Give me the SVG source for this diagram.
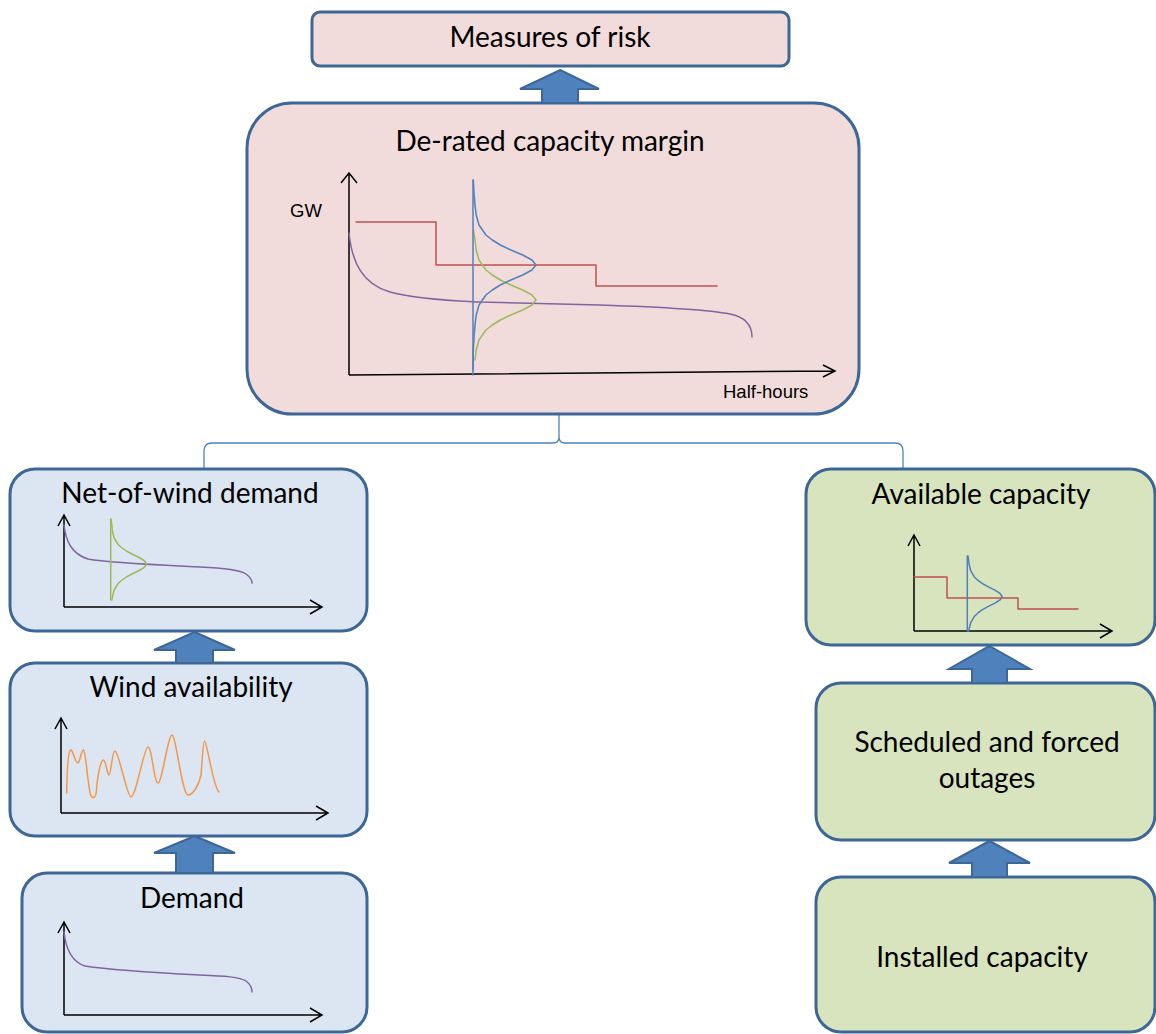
<svg xmlns="http://www.w3.org/2000/svg" width="1156" height="1034" viewBox="0 0 1156 1034">
<style>
.box{stroke:#3c6796;stroke-width:3}
.pink{fill:#f2dcdb}
.blue{fill:#dce6f2}
.green{fill:#d7e4bd}
.t{font-family:Lato,"Noto Sans",sans-serif;font-size:28px;fill:#000;text-anchor:middle}
.ax{font-family:"Liberation Sans",Arial,sans-serif;font-size:18.5px;fill:#000}
.axis{fill:none;stroke:#000;stroke-width:1.5}
.c{fill:none;stroke-width:1.5;stroke-linejoin:round;stroke-linecap:round}
.pu{stroke:#8064a2}
.rd{stroke:#c0504d}
.bl{stroke:#4f81bd}
.gr{stroke:#9bbb59}
.or{stroke:#f79646}
.arr{fill:#4f81bd;stroke:#3c6796;stroke-width:2;stroke-linejoin:miter}
.conn{fill:none;stroke:#4f81bd;stroke-width:1.3}
</style>
<g id="connectors">
<path class="conn" d="M204,470 L204,451 Q204,443 212,443 L553,443 Q559,443 559,437 L559,414 M559,437 Q559,443 565,443 L895,443 Q903,443 903,451 L903,470"/>
</g>
<g id="measures-of-risk">
<rect class="box pink" x="312" y="12" width="477" height="54" rx="8"/>
<text class="t" x="550" y="47">Measures of risk</text>
</g>
<g id="de-rated-capacity-margin">
<rect class="box pink" x="247" y="103" width="612" height="311" rx="45"/>
<text class="t" x="550" y="151">De-rated capacity margin</text>
<text class="ax" x="290" y="217">GW</text>
<text class="ax" x="723" y="398">Half-hours</text>
<path class="axis" d="M349,375 L349,173 M341,183 L349,173 L357,183 M349,375 L835,371 M823,365 L835,371 L823,377"/>
<path class="c rd" d="M356,222 L436,222 L436,265 L596,265 L596,286 L717,286"/>
<path class="c pu" d="M349,233 C352,262 362,284 390,292 C420,300 460,301 480,302 L600,305 C660,307 710,310 730,314 C745,317 752,325 752,337"/>
<polyline class="c gr" points="473.5,230 475,240 476.2,250 479,260 485.9,270 492.3,275 500.3,280 510.9,285 522.7,290 532,295 536,300 532,305 522.7,310 510.9,315 500.3,320 492.3,325 485.9,330 479,340 476.2,350 475,360"/>
<path class="c bl" d="M473,180 L473,375"/>
<polyline class="c bl" points="473.3,180 474.2,195 475,205 476.2,215 479,225 485.9,235 492.3,240 500.3,245 510.9,250 522.7,255 532,260 536,265 532,270 522.7,275 510.9,280 500.3,285 492.3,290 485.9,295 479,305 476.2,315 475,325 474.2,335 473.3,350 473,370"/>
</g>
<g id="net-of-wind-demand">
<rect class="box blue" x="10" y="469" width="357" height="162" rx="25"/>
<text class="t" x="190" y="503">Net-of-wind demand</text>
<path class="axis" d="M64,607 L64,515 M58,526 L64,515 L70,526 M64,607 L322,607 M310,600 L322,607 L310,614"/>
<path class="c pu" d="M64,525 C66,542 72,554 88,559 C110,563 160,565 200,567 C225,568 240,570 246,574 C250,577 252,580 252,583"/>
<path class="c gr" d="M110.7,519 L110.7,600"/>
<polyline class="c gr" points="111,519 111.8,525 112.5,531.5 114.1,538 118.1,544.5 121.7,547.75 126.3,551 132.4,554.25 139.1,557.5 144.4,560.75 146.7,564 144.4,567.25 139.1,570.5 132.4,573.75 126.3,577 121.7,580.25 118.1,583.5 114.1,590 112.5,596.5 111.8,600"/>
</g>
<g id="wind-availability">
<rect class="box blue" x="10" y="663" width="357" height="173" rx="25"/>
<text class="t" x="191" y="697">Wind availability</text>
<path class="axis" d="M61,813 L61,718 M55,729 L61,718 L67,729 M61,813 L328,813 M316,806 L328,813 L316,820"/>
<path class="c or" d="M66.7,793 C67,770 68,752 70.5,750 C73,749 75,763 78,763 C80,763 81,750 83.5,750 C86,751 88,790 91,796 C93,799 96,798 96.5,790 C97,780 100,762 103,760 C106,759 107,775 109,775 C111,775 112,751 115,751 C119,752 127,797 131,797 C136,797 144,747 148,747 C152,747 154,783 158,783 C162,783 168,735 172,735 C176,735 182,795 188,795 C193,795 199,785 201,775 C202,765 203,741 204.5,741 C207,741 213,787 219,792"/>
</g>
<g id="demand">
<rect class="box blue" x="22" y="873" width="345" height="159" rx="25"/>
<text class="t" x="192" y="908">Demand</text>
<path class="axis" d="M64,1015 L64,922 M58,933 L64,922 L70,933 M64,1015 L322,1015 M310,1008 L322,1015 L310,1022"/>
<path class="c pu" d="M64,932 C66,950 72,962 85,966 C110,970 160,973 200,975 C225,976 240,977 246,981 C250,984 252,988 252,992"/>
</g>
<g id="available-capacity">
<rect class="box green" x="806" y="469" width="349" height="176" rx="25"/>
<text class="t" x="981" y="504">Available capacity</text>
<path class="axis" d="M914,631 L914,535 M908,546 L914,535 L920,546 M914,631 L1112,631 M1100,624 L1112,631 L1100,638"/>
<path class="c rd" d="M914,577 L947,577 L947,598 L1018,598 L1018,609 L1078,609"/>
<path class="c bl" d="M967.3,556 L967.3,631"/>
<polyline class="c bl" points="968,556 969,563.7 970.7,570.7 974.5,577.2 978,580.45 982.5,583.7 988.4,586.95 994.9,590.2 1000,593.45 1002.3,596.7 1000,599.95 994.9,603.2 988.4,606.45 982.5,609.7 978,612.95 974.5,616.2 970.7,622.7 969,629.2 968.6,631"/>
</g>
<g id="scheduled-and-forced-outages">
<rect class="box green" x="816" y="683" width="339" height="157" rx="25"/>
<text class="t" x="987" y="752">Scheduled and forced</text>
<text class="t" x="987" y="788">outages</text>
</g>
<g id="installed-capacity">
<rect class="box green" x="816" y="877" width="339" height="155" rx="25"/>
<text class="t" x="982" y="967">Installed capacity</text>
</g>
<g id="arrows">
<polygon class="arr" points="560,70 599,89 578,89 578,103 542,103 542,89 520,89"/>
<polygon class="arr" points="194.5,632 235,650 213,650 213,663 176,663 176,650 154,650"/>
<polygon class="arr" points="194.5,836 235,853 213,853 213,873 176,873 176,853 154,853"/>
<polygon class="arr" points="989.5,646 1030,669 1007,669 1007,683 972,683 972,669 949,669"/>
<polygon class="arr" points="989.5,841 1030,863 1007,863 1007,877 972,877 972,863 949,863"/>
</g>
</svg>
